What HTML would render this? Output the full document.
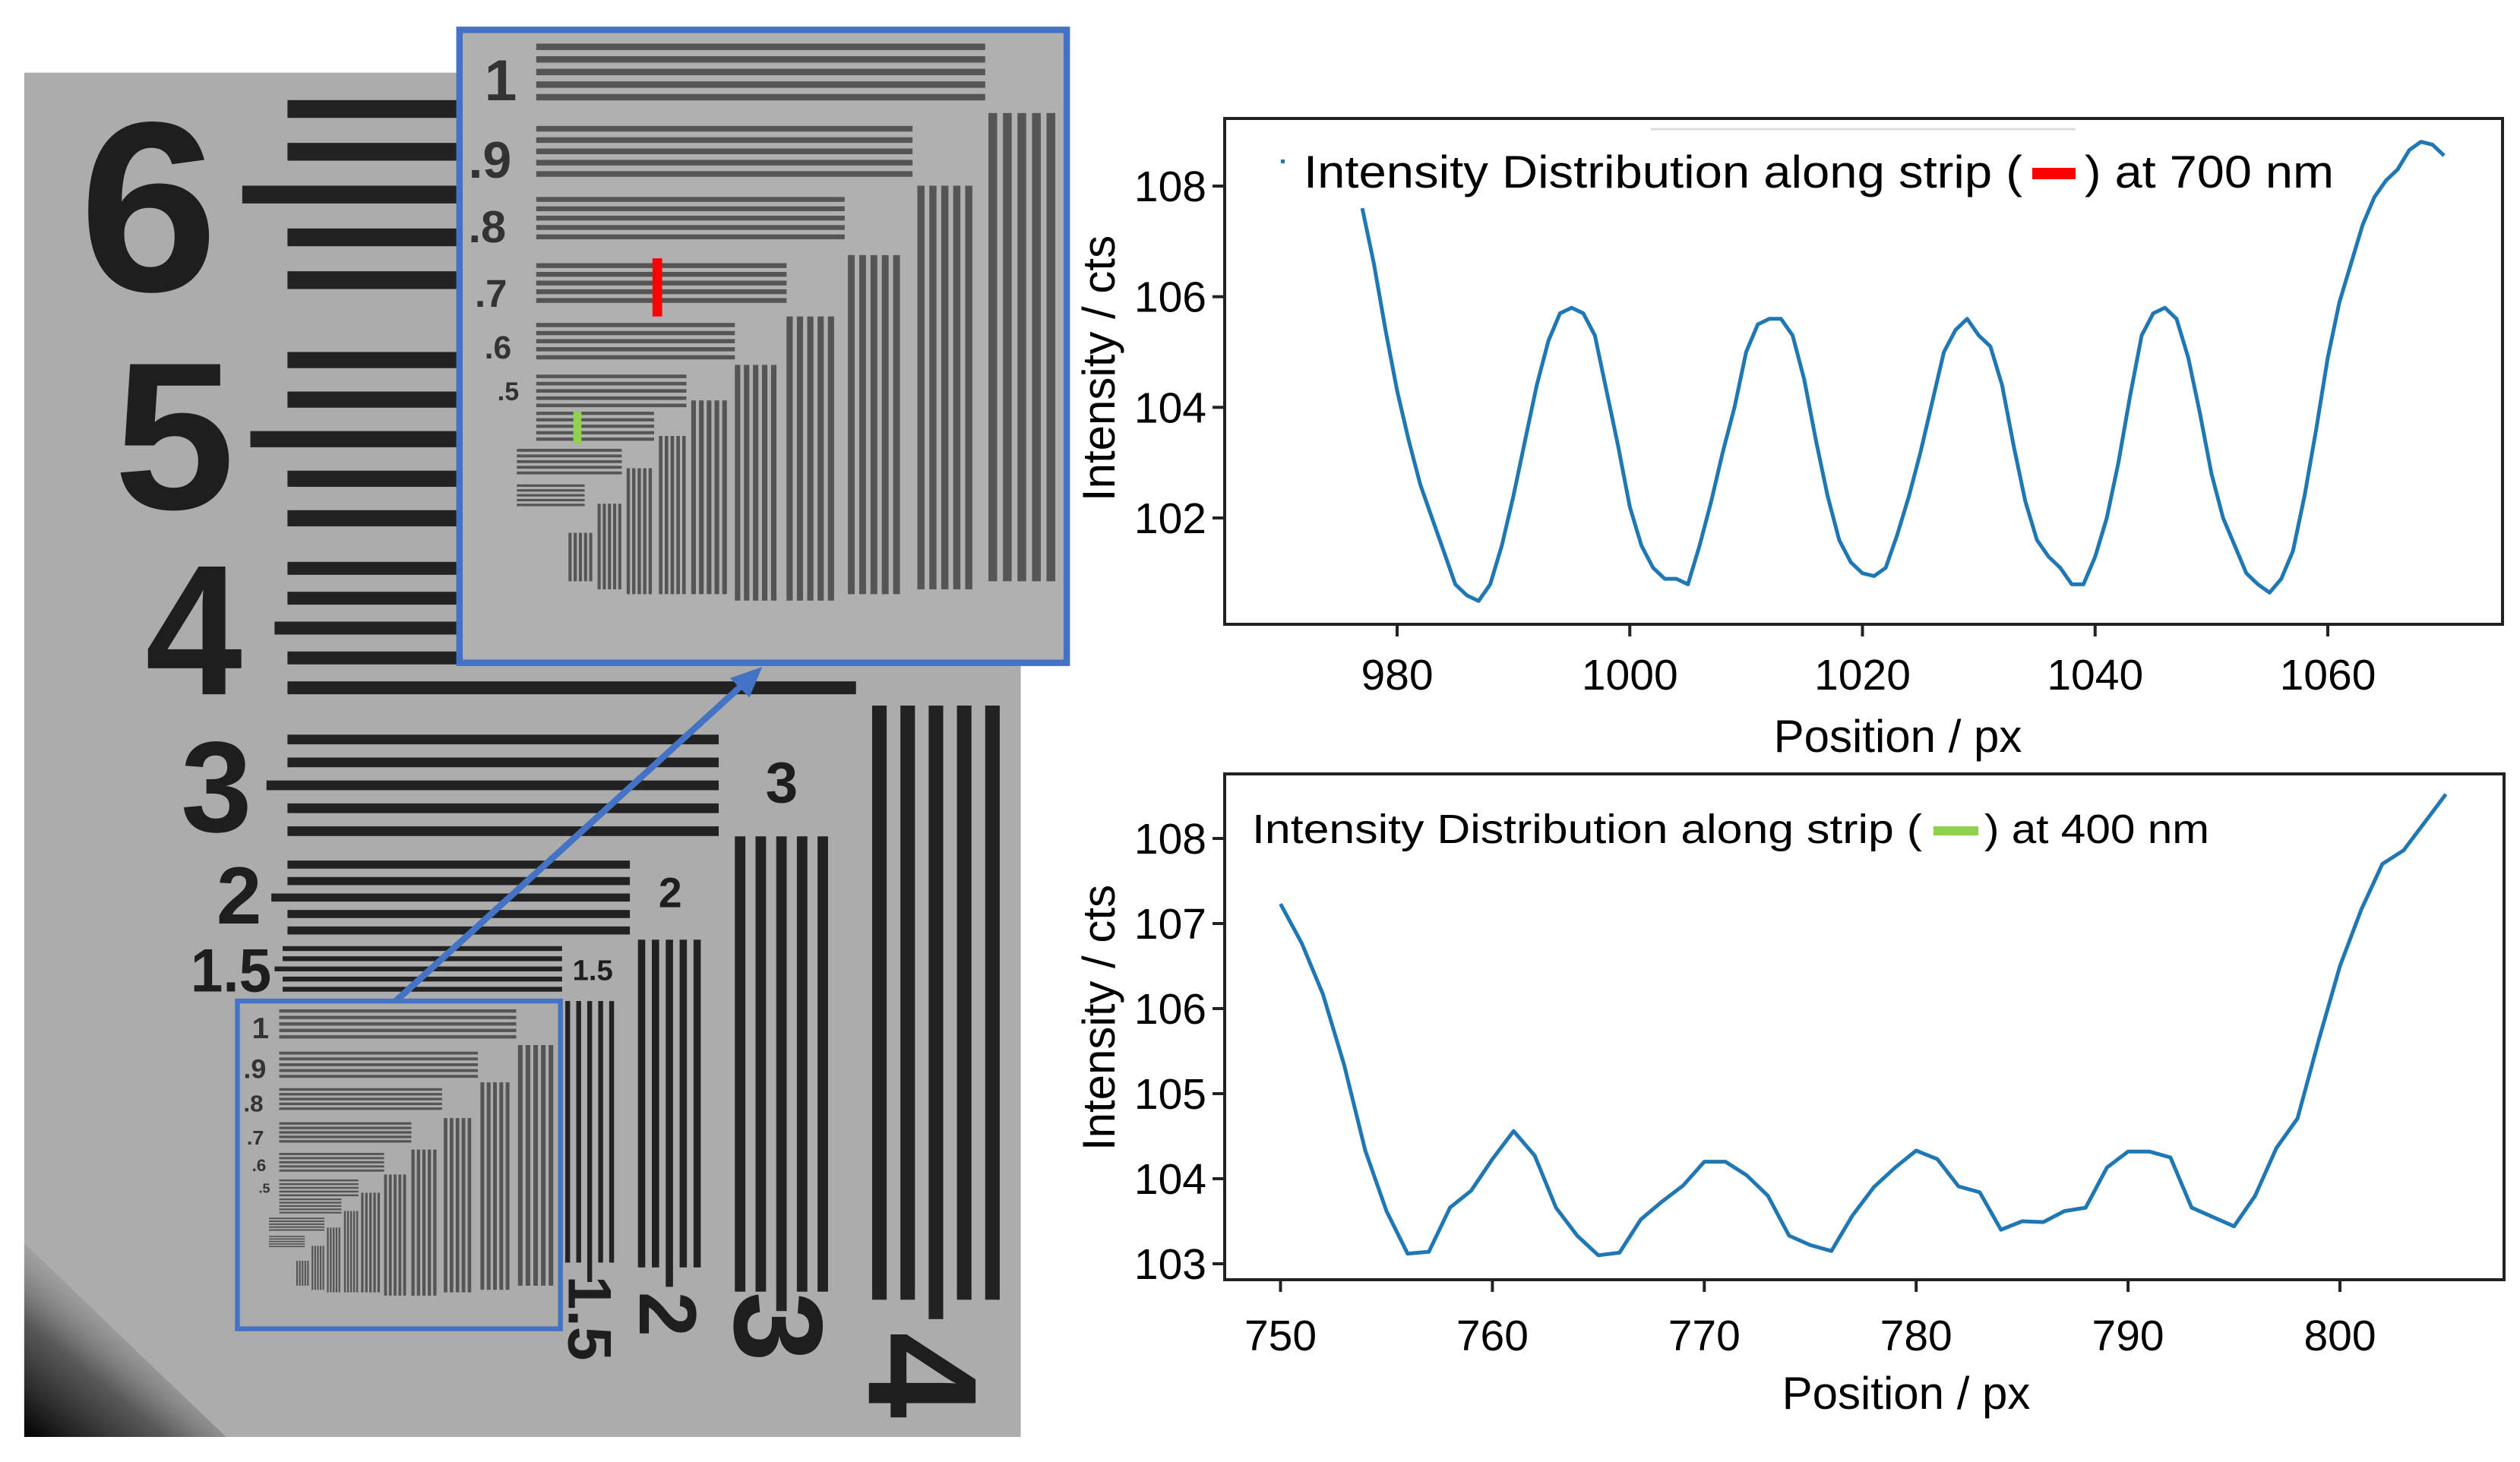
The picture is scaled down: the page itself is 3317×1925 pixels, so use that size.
<!DOCTYPE html>
<html><head><meta charset="utf-8"><style>
html,body{margin:0;padding:0;background:#fff;}
body{width:3317px;height:1925px;position:relative;overflow:hidden;font-family:"Liberation Sans",sans-serif;}
svg{position:absolute;left:0;top:0;}
</style></head><body>
<svg id="photo" width="3317" height="1925" viewBox="0 0 1560.3 905.5">
 <defs>
  <linearGradient id="corner" x1="0" y1="1" x2="0.6" y2="0.3">
   <stop offset="0" stop-color="#000"/><stop offset="0.5" stop-color="#444" stop-opacity="0.8"/><stop offset="1" stop-color="#aaa" stop-opacity="0"/>
  </linearGradient>
 </defs>
 <rect x="15" y="45" width="617" height="845" fill="#acacac"/>
 <polygon points="15,770 15,890 140,890" fill="url(#corner)"/>
 <g id="bigbars" fill="#222"></g>
 <g fill="#1e1e1e" font-family="Liberation Sans, sans-serif" font-weight="bold">
  <text x="92" y="180" font-size="150" text-anchor="middle" textLength="86" lengthAdjust="spacingAndGlyphs">6</text>
  <text x="108" y="315" font-size="130" text-anchor="middle" textLength="75" lengthAdjust="spacingAndGlyphs">5</text>
  <text x="120" y="430" font-size="115" text-anchor="middle" textLength="60" lengthAdjust="spacingAndGlyphs">4</text>
  <text x="134" y="515" font-size="80" text-anchor="middle" textLength="44" lengthAdjust="spacingAndGlyphs">3</text>
  <text x="148" y="572" font-size="50" text-anchor="middle" textLength="28" lengthAdjust="spacingAndGlyphs">2</text>
  <text x="143" y="614" font-size="38" text-anchor="middle" textLength="50" lengthAdjust="spacingAndGlyphs">1.5</text>
  <text x="367" y="607" font-size="18" text-anchor="middle">1.5</text>
  <text x="415" y="562" font-size="26" text-anchor="middle">2</text>
  <text x="484" y="497" font-size="36" text-anchor="middle">3</text>
  <text transform="translate(352,790) rotate(90)" font-size="38">1.5</text>
  <text transform="translate(396,800) rotate(90)" font-size="50">2</text>
  <text transform="translate(455,800) rotate(90)" font-size="78">3</text>
  <text transform="translate(538,825) rotate(90)" font-size="96">4</text>
 </g>
 <use href="#insetbars" transform="translate(147,620) scale(0.528,0.514) translate(-283,-17)"/>
 <use href="#insetlabels" transform="translate(147,620) scale(0.528,0.514) translate(-283,-17)"/>
 <rect x="147" y="620" width="200" height="203" fill="none" stroke="#4472c4" stroke-width="3"/>
 <line x1="245" y1="620" x2="462" y2="422" stroke="#4472c4" stroke-width="4"/>
 <polygon points="472,413 452,420 464,432" fill="#4472c4"/>
 <rect x="283" y="17" width="379" height="395" fill="#b0b0b0"/>
 <g id="insetbars" fill="#555"></g>
 <g id="insetlabels" fill="#333" font-weight="bold" font-family="Liberation Sans, sans-serif">
  <text x="300" y="62" font-size="36">1</text>
  <text x="290" y="110" font-size="32">.9</text>
  <text x="290" y="150" font-size="28">.8</text>
  <text x="294" y="190" font-size="24">.7</text>
  <text x="300" y="222" font-size="20">.6</text>
  <text x="308" y="248" font-size="16">.5</text>
 </g>
 <rect x="404" y="160" width="6" height="36" fill="#ff0000"/>
 <rect x="355" y="255" width="5" height="20" fill="#8fd14f"/>
 <rect x="284.5" y="18.5" width="376" height="392" fill="none" stroke="#4472c4" stroke-width="4"/>
</svg>

<svg id="charts" width="3317" height="1925" viewBox="0 0 3317 1925" font-family="Liberation Sans, sans-serif"></svg>

<script>
(function(){
 var NS="http://www.w3.org/2000/svg";
 function r(g,x,y,w,h,name,fill){var e=document.createElementNS(NS,'rect');e.setAttribute('x',x);e.setAttribute('y',y);e.setAttribute('width',w);e.setAttribute('height',h);if(fill)e.setAttribute('fill',fill);
  
  
  g.appendChild(e);}
 var bb=document.getElementById('bigbars');
 var H=[[178,300,62,26.5,11,150],[178,300,218,24.5,10,155],[178,530,348,18.5,8,170],[178,445,455,14.2,6,165],[178,390,533,10.2,5,168],[175,348,586,6.3,3,170]];
 H.forEach(function(h){for(var i=0;i<5;i++){var x0=(i==2)?h[5]:h[0];r(bb,x0,h[2]+i*h[3],h[1]-x0,h[4],'horizontal-bar');}});
 var V=[[350,6.8,3,620,782],[395,8.6,4.5,582,785],[455,12.8,6.5,518,800],[540,17.5,9,437,805]];
 V.forEach(function(v){for(var i=0;i<5;i++){var y1=(i==2)?v[4]+12:v[4];r(bb,v[0]+i*v[1],v[3],v[2],y1-v[3],'vertical-bar');}});
 var ib=document.getElementById('insetbars');
 var ih=[[332,610,27,7.8,4],[332,565,78,7,3.5],[332,523,122,5.8,3],[332,487,163,5.4,3],[332,455,200,5,2.6],[332,425,232,4.5,2.2],[332,405,255,4,2],[320,385,278,3.5,1.8],[320,362,300,3,1.5]];
 ih.forEach(function(h){for(var i=0;i<5;i++)r(ib,h[0],h[2]+i*h[3],h[1]-h[0],h[4],'inset-horizontal-bar');});
 var iv=[[612,657,70,360],[568,605,115,365],[525,560,158,368],[487,519,196,372],[455,483,226,372],[428,452,248,368],[408,426,270,368],[388,405,290,368],[370,386,312,365],[352,368,330,360]];
 iv.forEach(function(v){var w=(v[1]-v[0]);for(var i=0;i<5;i++)r(ib,v[0]+i*w/5,v[2],w/5*0.6,v[3]-v[2],'inset-vertical-bar');});
})();
</script>

<script>
var topX=[977,978,979,980,981,982,983,984,985,986,987,988,989,990,991,992,993,994,995,996,997,998,999,1000,1001,1002,1003,1004,1005,1006,1007,1008,1009,1010,1011,1012,1013,1014,1015,1016,1017,1018,1019,1020,1021,1022,1023,1024,1025,1026,1027,1028,1029,1030,1031,1032,1033,1034,1035,1036,1037,1038,1039,1040,1041,1042,1043,1044,1045,1046,1047,1048,1049,1050,1051,1052,1053,1054,1055,1056,1057,1058,1059,1060,1061,1062,1063,1064,1065,1066,1067,1068,1069,1070];
var topY=[107.6,106.6,105.4,104.3,103.4,102.6,102.0,101.4,100.8,100.6,100.5,100.8,101.5,102.4,103.4,104.4,105.2,105.7,105.8,105.7,105.3,104.3,103.3,102.2,101.5,101.1,100.9,100.9,100.8,101.5,102.3,103.2,104.0,105.0,105.5,105.6,105.6,105.3,104.5,103.4,102.4,101.6,101.2,101.0,100.95,101.1,101.7,102.4,103.2,104.1,105.0,105.4,105.6,105.3,105.1,104.4,103.3,102.3,101.6,101.3,101.1,100.8,100.8,101.3,102.0,103.0,104.2,105.3,105.7,105.8,105.6,104.9,103.9,102.8,102.0,101.5,101.0,100.8,100.65,100.9,101.4,102.4,103.6,104.9,105.9,106.6,107.3,107.8,108.1,108.3,108.65,108.8,108.75,108.55];
var topXTicks=[980,1000,1020,1040,1060];
var topYTicks=[102,104,106,108];
var botX=[750,751,752,753,754,755,756,757,758,759,760,761,762,763,764,765,766,767,768,769,770,771,772,773,774,775,776,777,778,779,780,781,782,783,784,785,786,787,788,789,790,791,792,793,794,795,796,797,798,799,800,801,802,803,804,805];
var botY=[107.23,106.77,106.17,105.34,104.33,103.62,103.12,103.14,103.66,103.86,104.23,104.56,104.27,103.66,103.33,103.10,103.13,103.52,103.73,103.92,104.20,104.20,104.04,103.80,103.33,103.22,103.15,103.57,103.90,104.13,104.33,104.23,103.91,103.84,103.40,103.50,103.49,103.62,103.66,104.13,104.32,104.32,104.25,103.66,103.55,103.44,103.80,104.36,104.71,105.63,106.50,107.16,107.70,107.86,108.19,108.52];
var botXTicks=[750,760,770,780,790,800];
var botYTicks=[103,104,105,106,107,108];

(function(){
 var NS="http://www.w3.org/2000/svg";
 var svg=document.getElementById('charts');
 function el(tag,attrs,parent){var e=document.createElementNS(NS,tag);for(var k in attrs)e.setAttribute(k,attrs[k]);(parent||svg).appendChild(e);return e;}
 function linScale(d0,d1,r0,r1){return function(v){return r0+(v-d0)*(r1-r0)/(d1-d0);};}

 function chart(cfg){
  var g=el('g',{});
  
  
  var sx=linScale(cfg.xd[0],cfg.xd[1],cfg.xr[0],cfg.xr[1]);
  var sy=linScale(cfg.yd[0],cfg.yd[1],cfg.yr[0],cfg.yr[1]);
  var d='';
  for(var i=0;i<cfg.xs.length;i++){d+=(i?'L':'M')+sx(cfg.xs[i]).toFixed(1)+','+sy(cfg.ys[i]).toFixed(1);}
  var p=el('path',{d:d,fill:'none',stroke:'#1f77b4','stroke-width':5,'stroke-linejoin':'round'},g);
  
  
  var fr=el('rect',{x:cfg.box[0],y:cfg.box[1],width:cfg.box[2]-cfg.box[0],height:cfg.box[3]-cfg.box[1],fill:'none',stroke:'#222','stroke-width':4},g);
  
  
  cfg.xt.forEach(function(t){
   var x=sx(t);
   var tk=el('line',{x1:x,y1:cfg.box[3],x2:x,y2:cfg.box[3]+16,stroke:'#222','stroke-width':4},g);
   
   
   var tx=el('text',{x:x,y:cfg.xlabY,'text-anchor':'middle','font-size':57,fill:'#000'},g);
   
   
   tx.textContent=t;
  });
  cfg.yt.forEach(function(t){
   var y=sy(t);
   var tk=el('line',{x1:cfg.box[0],y1:y,x2:cfg.box[0]-16,y2:y,stroke:'#222','stroke-width':4},g);
   
   
   var tx=el('text',{x:cfg.box[0]-24,y:y+20,'text-anchor':'end','font-size':57,fill:'#000'},g);
   
   
   tx.textContent=t;
  });
  var xt=el('text',{x:cfg.xTitle[0],y:cfg.xTitle[1],'text-anchor':'middle','font-size':60,fill:'#000'},g);
  
  
  xt.textContent='Position / px';
  var yt=el('text',{transform:'translate('+cfg.yTitle[0]+','+cfg.yTitle[1]+') rotate(-90)','text-anchor':'middle','font-size':60,fill:'#000'},g);
  
  
  yt.textContent='Intensity / cts';
  return g;
 }

 var g1=chart({name:'top-chart-700nm',xs:topX,ys:topY,xd:[980,1060],xr:[1839,3064],yd:[102,108],yr:[682,245],
  box:[1612,156,3294,822],xt:topXTicks,yt:topYTicks,xlabY:908,xTitle:[2498,990],yTitle:[1467,485]});
 var g2=chart({name:'bottom-chart-400nm',xs:botX,ys:botY,xd:[750,800],xr:[1685.5,3080],yd:[103,108],yr:[1664,1104],
  box:[1612,1019,3296,1685],xt:botXTicks,yt:botYTicks,xlabY:1778,xTitle:[2509,1855],yTitle:[1467,1340]});

 var lg1=el('g',{},g1);
 
 
 var ln=el('line',{x1:2173,y1:170,x2:2732,y2:170,stroke:'#ddd','stroke-width':3},lg1);
 
 
 var dot=el('rect',{x:1686,y:210,width:5,height:5,fill:'#1f77b4'},lg1);
 
 
 var t1=el('text',{x:1716,y:247,'font-size':60,fill:'#000'},lg1);
 
 
 t1.innerHTML='<tspan x="1716" textLength="946" lengthAdjust="spacingAndGlyphs">Intensity Distribution along strip (</tspan><tspan x="2744" textLength="328" lengthAdjust="spacingAndGlyphs">) at 700 nm</tspan>';
 var rd=el('rect',{x:2675,y:221,width:57,height:15,fill:'#ff0000'},lg1);
 
 

 var lg2=el('g',{},g2);
 
 
 var t2=el('text',{x:1648,y:1110,'font-size':54,fill:'#000'},lg2);
 
 
 t2.innerHTML='<tspan x="1648" textLength="882" lengthAdjust="spacingAndGlyphs">Intensity Distribution along strip (</tspan><tspan x="2612" textLength="296" lengthAdjust="spacingAndGlyphs">) at 400 nm</tspan>';
 var gr=el('rect',{x:2545,y:1088,width:59,height:12,fill:'#8fd14f'},lg2);
 
 
})();
</script>
</body></html>
